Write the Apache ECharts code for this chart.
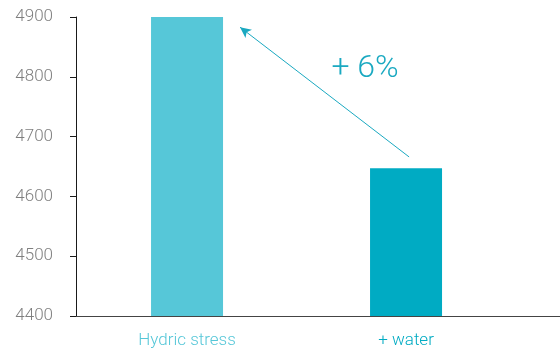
<!DOCTYPE html>
<html>
<head>
<meta charset="utf-8">
<script src="https://cdn.jsdelivr.net/npm/echarts@6/dist/echarts.min.js"></script>
<style>
  html, body { margin: 0; padding: 0; background: #fff; }
  #chart { width: 560px; height: 355px; }
</style>
</head>
<body>
<div id="chart"></div>
<script>
// Categories and measured values
const categories = ['Hydric stress', '+ water'];
const values = [4900, 4647];
const barColors = ['#56c7d8', '#00abc3'];

// Y axis range and ticks
const yMin = 4400;
const yMax = 4900;
const yStep = 100;

// Change annotation: arrow from the second bar back to the first one
const arrowFrom = [1.014, 4666];
const arrowTo = [0.242, 4883];
const changeText = '+ 6%';
const changeAt = [0.813, 4813];

const FONT = 'Roboto, "Liberation Sans", sans-serif';

const chart = echarts.init(document.getElementById('chart'), null, { renderer: 'canvas' });

chart.setOption({
  animation: false,
  backgroundColor: '#ffffff',
  grid: { left: 76, right: 0, top: 17, bottom: 39, containLabel: false },
  xAxis: {
    type: 'value',
    min: -0.507,
    max: 1.703,
    splitLine: { show: false },
    axisTick: { show: false },
    axisLine: { show: true, onZero: false, lineStyle: { color: '#444444', width: 1 } },
    axisLabel: {
      customValues: [0, 1],
      formatter: v => categories[Math.round(v)] || '',
      color: (v) => barColors[Math.round(v)] || '#888',
      fontFamily: FONT,
      fontWeight: 300,
      fontSize: 17,
      margin: 16
    }
  },
  yAxis: {
    type: 'value',
    min: yMin,
    max: yMax,
    interval: yStep,
    splitLine: { show: false },
    axisLine: { show: true, onZero: false, lineStyle: { color: '#1a1a1a', width: 1 } },
    axisTick: { show: true, length: 6, lineStyle: { color: '#1a1a1a' } },
    axisLabel: {
      formatter: v => String(v),
      color: '#7f7f7f',
      fontFamily: FONT,
      fontWeight: 300,
      fontSize: 17,
      margin: 23
    }
  },
  series: [{
    type: 'bar',
    barWidth: 72,
    data: values.map((v, i) => ({ value: [i, v], itemStyle: { color: barColors[i] } })),
    markLine: {
      silent: true,
      symbol: ['none', 'arrow'],
      symbolSize: [8, 11],
      label: { show: false },
      lineStyle: { color: '#1aa9c1', width: 1, type: 'solid' },
      data: [[{ coord: arrowFrom }, { coord: arrowTo }]]
    },
    markPoint: {
      silent: true,
      symbol: 'circle',
      symbolSize: 0,
      label: {
        show: true,
        position: 'inside',
        formatter: changeText,
        color: '#1aa9c1',
        fontFamily: FONT,
        fontWeight: 300,
        fontSize: 32
      },
      data: [{ coord: changeAt }]
    }
  }]
});
</script>
</body>
</html>
